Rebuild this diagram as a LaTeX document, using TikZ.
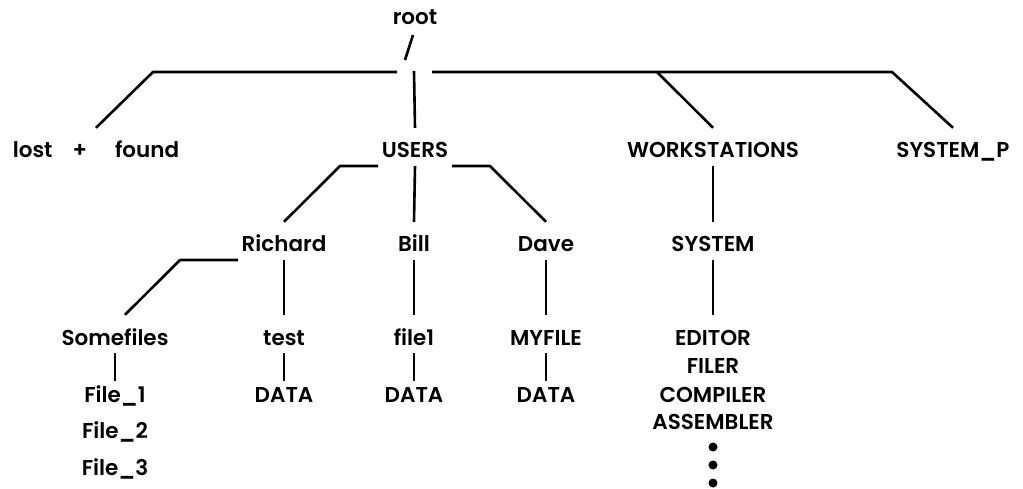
\documentclass[tikz,border=0pt]{standalone}
\usepackage{fontspec}
\setmainfont{Poppins}[UprightFont=* SemiBold]
\begin{document}
\begin{tikzpicture}[x=1pt,y=-1pt,
  every node/.style={font=\fontsize{21.5}{26}\selectfont},
  dir/.style={anchor=base,text height=22pt,text depth=0pt,inner ysep=8pt,inner xsep=2pt},
  item/.style={anchor=base,inner sep=0pt},
  link/.style={line width=2.6pt,line join=round},
  dot/.style={circle,fill=black,inner sep=0pt,minimum size=9pt}]
\useasboundingbox (0,0) rectangle (1023,489);

% root directory
\node[item] (root) at (415,25) {root};
\coordinate (slashtop) at (413,35);
\coordinate (slashbot) at (405,60);
\draw[link] (slashtop) -- (slashbot);

% first level
\node[dir] (lost)  at (96,158)  {lost\hspace{20pt}+\hspace{28pt}found};
\node[dir] (users) at (415,158) {USERS};
\node[dir] (ws)    at (713,158) {WORKSTATIONS};
\node[dir] (sysp)  at (953,158) {SYSTEM\_P};

% second level
\node[dir] (richard) at (284,252) {Richard};
\node[dir] (bill)    at (414,252) {Bill};
\node[dir] (dave)    at (546,252) {Dave};
\node[dir] (system)  at (713,252) {SYSTEM};

% third level
\node[dir] (somefiles) at (115,345) {Somefiles};
\node[dir] (test)      at (284,345) {test};
\node[dir] (file1)     at (414,345) {file1};
\node[dir] (myfile)    at (546,345) {MYFILE};
\node[dir] (editor)    at (713,345) {EDITOR};
\node[item] (filer)    at (713,373) {FILER};
\node[item] (compiler) at (713,402) {COMPILER};
\node[item] (assembler) at (713,429) {ASSEMBLER};
\node[dot] (dot1) at (713,447) {};
\node[dot] (dot2) at (713,465) {};
\node[dot] (dot3) at (713,483) {};

% fourth level
\node[dir] (fa)    at (115,402) {File\_1};
\node[item] (fb)   at (115,438) {File\_2};
\node[item] (fc)   at (115,475) {File\_3};
\node[dir] (data1) at (284,402) {DATA};
\node[dir] (data2) at (414,402) {DATA};
\node[dir] (data3) at (546,402) {DATA};

% bus under the root
\coordinate (bus)    at (414,71);
\coordinate (busL)   at (397,72);
\coordinate (bendL)  at (153,72);
\coordinate (busR)   at (432,72);
\coordinate (bendWS) at (657,72);
\coordinate (bendSP) at (892,72);
\draw[link] (busL) -- (bendL) -- (lost.north);
\draw[link] (bus) -- (users.north);
\draw[link] (busR) -- (bendSP) -- (sysp.north);
\draw[link] (bendWS) -- (ws.north);

% USERS branches
\coordinate (uL)  at (378,166);
\coordinate (uLb) at (340,166);
\coordinate (uR)  at (452,166);
\coordinate (uRb) at (490,166);
\draw[link] (uL) -- (uLb) -- (richard.north);
\draw[link] (users.south) -- (bill.north);
\draw[link] (uR) -- (uRb) -- (dave.north);
\draw[link] (ws.south) -- (system.north);

% Richard branches
\coordinate (rL)  at (238,260);
\coordinate (rLb) at (180,260);
\draw[link] (rL) -- (rLb) -- ([xshift=10pt]somefiles.north);
\draw[link] (richard.south) -- (test.north);
\draw[link] (bill.south) -- (file1.north);
\draw[link] (dave.south) -- (myfile.north);
\draw[link] (system.south) -- (editor.north);

% files
\draw[link] (somefiles.south) -- ([yshift=-9pt]fa.north);
\draw[link] (test.south) -- ([yshift=-9pt]data1.north);
\draw[link] (file1.south) -- ([yshift=-9pt]data2.north);
\draw[link] (myfile.south) -- ([yshift=-9pt]data3.north);
\end{tikzpicture}
\end{document}
